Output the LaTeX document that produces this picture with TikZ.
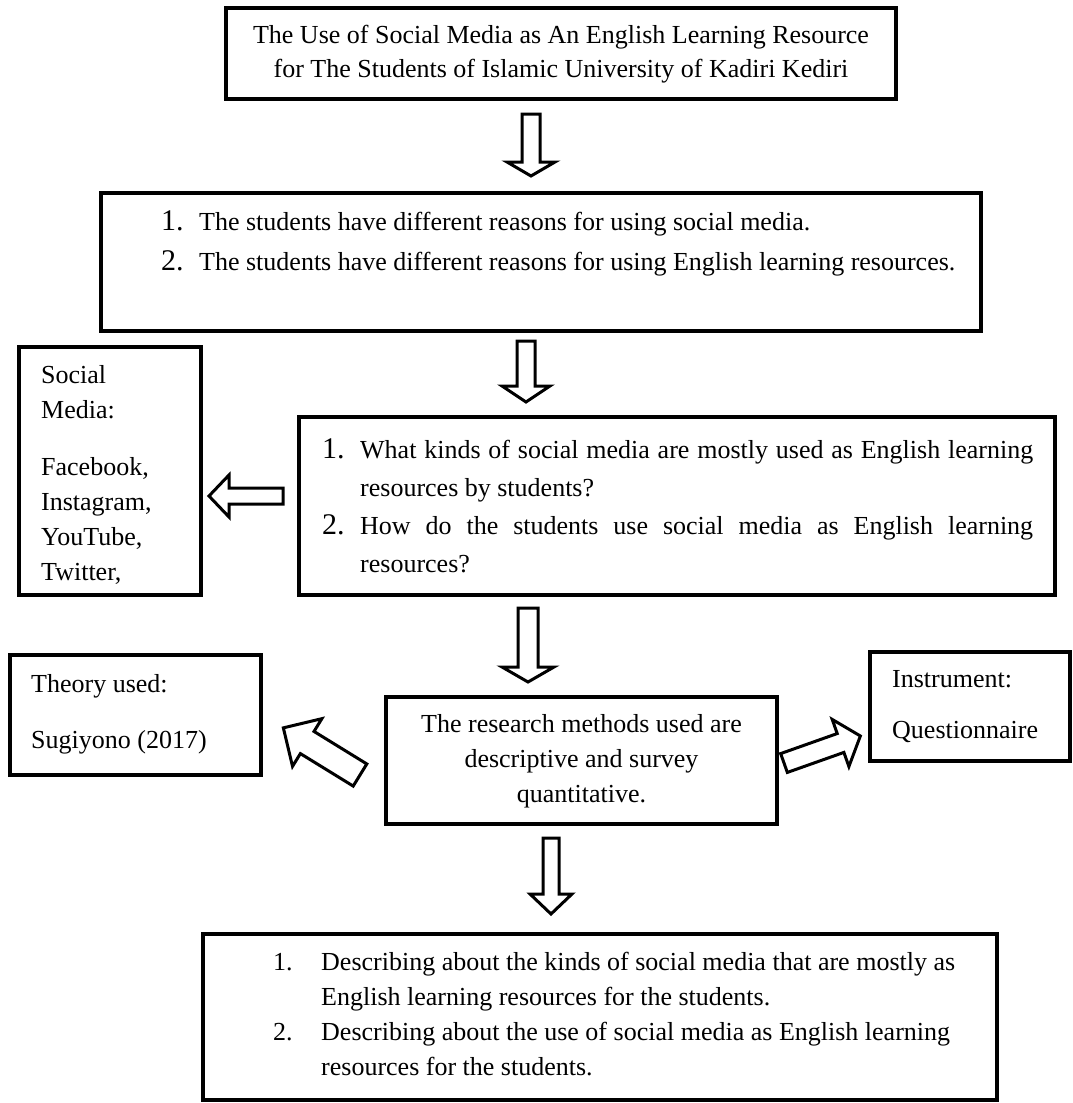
\documentclass[tikz,border=0pt]{standalone}
\usepackage{fontspec}
\setmainfont{Liberation Serif}
\usepackage{array}

\tikzset{
  box/.style={draw, line width=3.5pt, inner sep=0pt},
  txt/.style={anchor=base west, inner sep=0pt, font=\fontsize{26}{35}\selectfont},
  arrowline/.style={draw, line width=3pt, line join=miter, fill=white},
  pics/hollowarrow/.style n args={4}{code={
    \path[arrowline] (0,-#2) -- ({#1-#4},-#2) -- ({#1-#4},-#3) -- (#1,0)
      -- ({#1-#4},#3) -- ({#1-#4},#2) -- (0,#2) -- cycle;
  }},
}
\newcommand{\bignum}[1]{{\fontsize{30}{30}\selectfont #1}}

\begin{document}
\begin{tikzpicture}[x=1pt, y=-1pt]
\useasboundingbox (0,0) rectangle (1073,1103);

% boxes
\node[box, minimum width=670, minimum height=91] (title) at (561,53.5) {};
\node[box, minimum width=880, minimum height=138] (reasons) at (541,262) {};
\node[box, minimum width=182, minimum height=248] (media) at (110,471) {};
\node[box, minimum width=756, minimum height=178] (questions) at (677,506) {};
\node[box, minimum width=251, minimum height=120] (theory) at (135.5,715) {};
\node[box, minimum width=391, minimum height=127] (methods) at (581.5,760.5) {};
\node[box, minimum width=200, minimum height=109] (instrument) at (970,706.5) {};
\node[box, minimum width=794, minimum height=166] (findings) at (600,1017) {};

% texts
\node[txt, anchor=base, font=\fontsize{26}{34}\selectfont] (titletext) at (561,43) {\begin{tabular}[t]{@{}c@{}}
The Use of Social Media as An English Learning Resource\\
for The Students of Islamic University of Kadiri Kediri\end{tabular}};

\node[txt, font=\fontsize{26}{40}\selectfont] (reasonstext) at (161,230) {\begin{tabular}[t]{@{}p{38pt}@{}l@{}}
\bignum{1.} & The students have different reasons for using social media.\\
\bignum{2.} & The students have different reasons for using English learning resources.\end{tabular}};

\node[txt] (mediatext) at (41,383) {\begin{tabular}[t]{@{}l@{}}
Social\\ Media:\\[22pt] Facebook,\\ Instagram,\\ YouTube,\\ Twitter,\end{tabular}};

\node[txt, font=\fontsize{26}{38}\selectfont] (questionstext) at (322,458) {\begin{tabular}[t]{@{}p{38pt}@{}p{673pt}@{}}
\bignum{1.} & What kinds of social media are mostly used as English learning\linebreak resources by students?\\
\bignum{2.} & How do the students use social media as English learning\linebreak resources?\end{tabular}};

\node[txt] (theorytext) at (31,692) {\begin{tabular}[t]{@{}l@{}}
Theory used:\\[21pt] Sugiyono (2017)\end{tabular}};

\node[txt, anchor=base] (methodstext) at (581.5,732) {\begin{tabular}[t]{@{}c@{}}
The research methods used are\\ descriptive and survey\\ quantitative.\end{tabular}};

\node[txt] (instrumenttext) at (892,687) {\begin{tabular}[t]{@{}l@{}}
Instrument:\\[16pt] Questionnaire\end{tabular}};

\node[txt] (findingstext) at (273,970) {\begin{tabular}[t]{@{}p{48pt}@{}l@{}}
1. & Describing about the kinds of social media that are mostly as\\
 & English learning resources for the students.\\
2. & Describing about the use of social media as English learning\\
 & resources for the students.\end{tabular}};

% hollow arrows
\pic[rotate=-90] at (531,114) {hollowarrow={62}{9}{24}{14}};
\pic[rotate=-90] at (526,341) {hollowarrow={61}{9}{24}{16}};
\pic[rotate=180] at (283,496) {hollowarrow={74}{8}{21}{20}};
\pic[rotate=-90] at (528,608) {hollowarrow={74}{10}{26}{15}};
\pic[rotate=148.4] at (360,775) {hollowarrow={90}{13}{28}{28}};
\pic[rotate=19.5] at (784,763) {hollowarrow={81}{10}{25}{21}};
\pic[rotate=-90] at (551,838) {hollowarrow={76}{8}{21}{20}};
\end{tikzpicture}
\end{document}
